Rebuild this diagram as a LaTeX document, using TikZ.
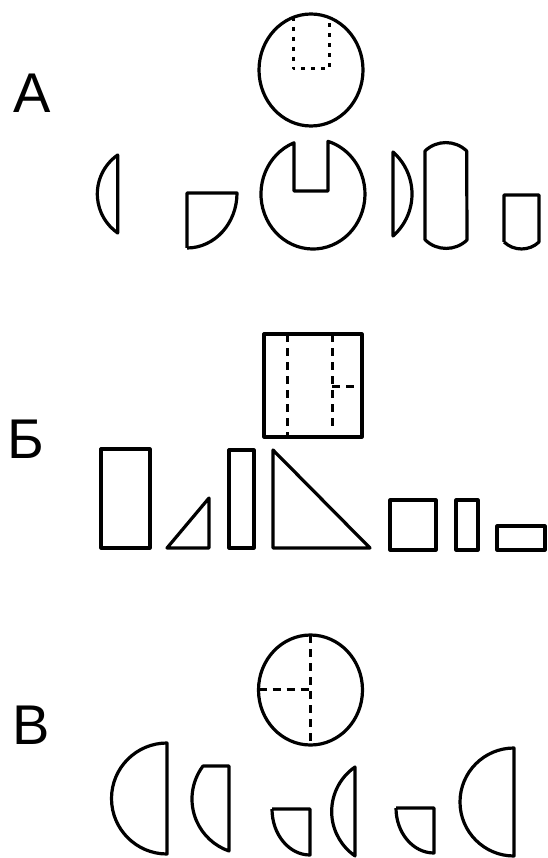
\documentclass[tikz,border=0pt]{standalone}
\usepackage{fontspec}
\setmainfont{Liberation Sans}
\begin{document}
\begin{tikzpicture}[x=1pt,y=1pt,line width=3.2pt,line join=round]
    \tikzstyle{part}=[draw=black]
    \tikzstyle{hidden}=[line width=3pt,dash pattern=on 8pt off 6pt]
    \tikzstyle{dots}=[line width=3pt,dash pattern=on 4pt off 6pt]
    \tikzstyle{letter}=[font=\fontsize{56}{60}\selectfont,inner sep=0pt,anchor=base west]
    \useasboundingbox (0,0) rectangle (547,-858);
    \begin{scope}
        \node[letter] (la) at (12,-113) {А};
        \draw[part] (311,-70) ellipse [x radius=52,y radius=56];
        \draw[dots] (293,-17) -- (293,-69) -- (329,-69) -- (329,-17);
        \draw[part] (117.7,-155) arc[start angle=124.8,end angle=235.2,radius=47.5] -- cycle;
        \draw[part] (187,-248) -- (187,-193) -- (237,-193) arc[start angle=0,end angle=-90,x radius=50,y radius=55];
        \draw[part] (294,-191) -- (294,-142.8) arc[start angle=111.4,end angle=433.2,x radius=52,y radius=55] -- (328,-191) -- cycle;
        \draw[part] (393,-236) arc[start angle=-48.7,end angle=48.7,radius=55.9] -- cycle;
        \draw[part] (425,-240) -- (425,-151) arc[start angle=134,end angle=46,radius=30] -- (467,-240) arc[start angle=-46,end angle=-134,radius=30] -- cycle;
        \draw[part] (504,-242) -- (504,-195) -- (539,-195) -- (539,-242) arc[start angle=-46.5,end angle=-133.5,radius=25.4];
    \end{scope}
    \begin{scope}
        \node[letter] (lb) at (6,-458) {Б};
        \draw[part] (264,-334) rectangle (362,-437);
        \draw[hidden] (287,-334) -- (287,-437);
        \draw[hidden] (332,-334) -- (332,-428);
        \draw[hidden] (332,-386) -- (362,-386);
        \draw[part] (101,-449) rectangle (150,-548);
        \draw[part] (167,-548) -- (209,-498) -- (209,-548) -- cycle;
        \draw[part] (229,-450) rectangle (254,-548);
        \draw[part] (273,-450) -- (273,-548) -- (370,-548) -- cycle;
        \draw[part] (390,-500) rectangle (436,-550);
        \draw[part] (456,-500) rectangle (478,-550);
        \draw[part] (497,-526) rectangle (545,-550);
    \end{scope}
    \begin{scope}
        \node[letter] (lv) at (10.5,-744) {В};
        \draw[part] (310.5,-690) ellipse [x radius=52,y radius=55];
        \draw[hidden] (310,-635) -- (310,-745);
        \draw[hidden] (258.5,-689) -- (310,-689);
        \draw[part] (167,-743) arc[start angle=90,end angle=270,radius=55.5] -- cycle;
        \draw[part] (229,-766) -- (203,-766) arc[start angle=143.1,end angle=250.9,radius=55] -- cycle;
        \draw[part] (272,-809) -- (310,-809) -- (310,-855) arc[start angle=270,end angle=180,x radius=38,y radius=46];
        \draw[part] (355,-767) arc[start angle=124.6,end angle=235.4,radius=54] -- cycle;
        \draw[part] (396,-808) -- (434,-808) -- (434,-853) arc[start angle=270,end angle=180,x radius=38,y radius=45];
        \draw[part] (514,-748) arc[start angle=90,end angle=270,radius=54] -- cycle;
    \end{scope}
\end{tikzpicture}
\end{document}
